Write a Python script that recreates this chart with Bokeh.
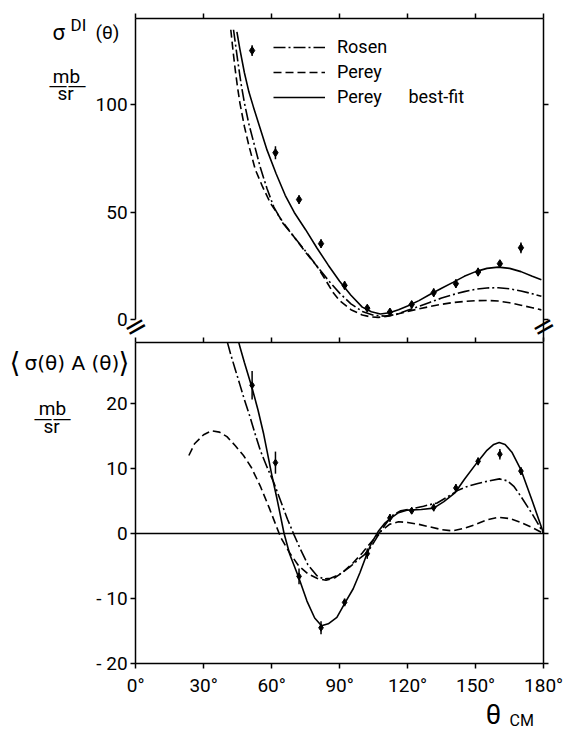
from bokeh.plotting import figure
from bokeh.models import (LinearAxis, FixedTicker, Label, Legend, LegendItem, Range1d)
from bokeh.embed import file_html
from bokeh.resources import INLINE

FONT = "Roboto"

# ---------------- data ----------------
# measured angles (deg, CM)
exp_angle = [51.4, 61.7, 72.1, 81.8, 92.2, 102.2, 112.2, 121.8, 131.5, 141.3, 151.1, 160.7, 170.0]

# upper panel: sigma_DI (mb/sr)
sig_exp = [125.3, 77.8, 56.0, 35.5, 16.1, 5.5, 3.7, 7.2, 12.7, 16.9, 22.3, 26.2, 33.6]
sig_err = [2.5, 3.0, 2.0, 2.0, 2.0, 1.5, 1.5, 1.5, 2.0, 2.0, 2.0, 1.5, 2.5]

sig_best_ang = [44.7, 46, 48, 50, 52, 55, 58, 62, 66, 70, 75, 80, 85, 90, 95, 100, 104, 108, 112, 116,
                120, 125, 130, 135, 140, 145, 150, 155, 160, 165, 170, 175, 179]
sig_best = [134, 126, 115, 106, 99, 89, 79, 68, 58, 50, 42, 33.5, 25.5, 18, 11.5, 6, 3.8, 2.8, 3.4, 4.8,
            6.5, 9, 12, 14.8, 17.5, 20.3, 22.5, 24, 24.6, 24, 22.5, 20.3, 18.7]

sig_rosen_ang = [43.2, 45, 46.5, 48, 50, 52, 55, 58, 61, 65, 70, 75, 80, 85, 90, 95, 100, 105, 110, 115,
                 120, 125, 130, 135, 140, 145, 150, 155, 160, 165, 170, 175, 179]
sig_rosen = [135, 121, 110, 101, 91, 83, 71, 61, 52.5, 45, 38.5, 32, 25, 18.5, 12.5, 7.5, 4, 2.2, 1.8, 2.6,
             4.5, 6.3, 8.3, 10.2, 11.8, 13.2, 14.3, 14.9, 15, 14.5, 13.5, 12.2, 11]

sig_perey_ang = [42, 43, 44, 45, 46, 48, 50, 52.8, 56, 59.4, 65, 70, 75, 80, 83, 85, 87.3, 90, 95, 100,
                 104, 107, 112, 116, 120, 125, 130, 135, 140, 145, 150, 155, 160, 165, 170, 175, 179]
sig_perey = [135, 125, 116, 108, 101, 90, 81, 70, 62, 54.5, 45.5, 38.5, 31.5, 25, 20, 16.5, 12.5, 9, 4.8, 2.3,
             1.4, 1.2, 1.9, 2.9, 4, 5.2, 6.3, 7.3, 8.1, 8.6, 9, 9.1, 8.8, 8, 6.9, 5.7, 4.7]

# lower panel: <sigma A> (mb/sr)
asy_exp = [22.8, 10.9, -6.6, -14.5, -10.6, -3.1, 2.4, 3.5, 4.0, 7.0, 11.1, 12.2, 9.6]
asy_err = [2.2, 1.7, 1.2, 1.0, 0.6, 0.8, 0.6, 0.5, 0.6, 0.6, 0.6, 0.8, 0.6]

asy_best_ang = [45.5, 46.2, 48, 51.3, 54, 56.5, 58.5, 60.2, 62.4, 65.5, 68, 72, 75.6, 79, 82, 85, 88.8,
                92.5, 96, 99, 102, 104, 107, 110, 112.3, 116, 120, 126, 131.5, 136, 141, 145, 150.6,
                155, 158, 160.4, 163, 166, 170, 175, 180]
asy_best = [29.4, 28.5, 26.3, 22.5, 19.0, 15.3, 11.8, 8.8, 5.3, 0, -3.2, -6.8, -10.4, -13, -14.2, -13.9,
            -12.9, -10.6, -8.5, -6.0, -3.2, -1.5, 0.3, 1.6, 2.3, 3.2, 3.6, 3.7, 3.9, 4.9, 6.3, 8.3, 10.9,
            12.8, 13.7, 14.0, 13.7, 12.5, 9.8, 5.0, 0]

asy_rosen_ang = [40.5, 42, 44, 46, 48, 50.6, 53, 55, 58, 61, 64, 67, 70, 72.7, 76, 80, 83, 86, 90, 95,
                 99, 102, 104, 107, 110, 113, 117, 122, 127, 133, 137, 142, 146, 151, 156, 160.5, 164,
                 167, 170, 175, 180]
asy_rosen = [29.4, 27.5, 25.2, 22.9, 20.6, 17.8, 15, 12.8, 10.2, 7.8, 5.0, 2.2, -0.3, -2.4, -4.8, -6.5,
             -7.0, -6.9, -6.3, -5.0, -3.8, -3.0, -2.0, -0.3, 1.3, 2.7, 3.5, 3.8, 4.2, 4.7, 5.5, 6.6, 7.2,
             7.7, 8.1, 8.4, 8.1, 7.2, 5.7, 3.0, 0]

asy_perey_ang = [23.5, 26, 30, 33.4, 37, 40.3, 44, 47.6, 51, 55, 59, 63, 64, 68, 72, 76, 80, 84, 88, 92,
                 96, 100, 104, 108, 112, 116, 120, 125, 130, 135, 140, 145, 150, 155, 160, 165, 170,
                 175, 180]
asy_perey = [12.0, 13.8, 15.2, 15.8, 15.6, 14.9, 13.5, 12, 10.2, 7.3, 3.9, 0.3, -0.6, -3, -5, -6.2, -6.9,
             -7.2, -6.8, -5.8, -4.5, -3.0, -1.3, 0.3, 1.4, 1.8, 1.7, 1.4, 1.0, 0.6, 0.4, 0.8, 1.4, 2.1,
             2.5, 2.3, 1.7, 0.9, 0]

x_ticks = [0, 30, 60, 90, 120, 150, 180]
x_tick_labels = {t: f"{t}°" for t in x_ticks}
top_y_ticks = [0, 50, 100]
bot_y_ticks = [-20, -10, 0, 10, 20]
bot_y_labels = {-20: "- 20", -10: "- 10", 0: "0", 10: "10", 20: "20"}

NB = "\u00a0"
legend_names = ["Rosen", "Perey", "Perey" + NB * 6 + "best-fit"]

DASH_ROSEN = "12 3 2 3"
DASH_PEREY = "8 4"
LW = 1.6

# panel extents (data units)
X_LO, X_HI = 0, 180
TOP_LO, TOP_HI = 0, 140          # upper panel, drawn from its 0 level up
BOT_LO, BOT_HI = -20, 29.4       # lower panel


def make_axis(ticks, loc, bounds, labels=False, overrides=None, range_name=None, width=1.5,
              standoff=3):
    kw = {}
    if range_name:
        kw["y_range_name"] = range_name
    ax = LinearAxis(fixed_location=loc, bounds=bounds, ticker=FixedTicker(ticks=ticks), **kw)
    ax.major_tick_out = 5
    ax.major_tick_in = 0
    ax.minor_tick_out = 0
    ax.minor_tick_in = 0
    ax.axis_line_width = width
    ax.axis_line_color = "black"
    ax.major_tick_line_width = 1.5
    ax.major_tick_line_color = "black"
    if labels:
        ax.major_label_text_font = FONT
        ax.major_label_text_font_size = "19px"
        ax.major_label_text_color = "black"
        ax.major_label_standoff = standoff
        if overrides:
            ax.major_label_overrides = overrides
    else:
        ax.major_label_text_font_size = "1px"
        ax.major_label_standoff = 0
        ax.major_label_overrides = {t: "" for t in ticks}
    return ax


def add_label(p, x, y, text, size, align="left", font=FONT, angle=0.0):
    # x, y in canvas pixels (origin at the top-left corner)
    p.add_layout(Label(x=x, y=y, x_units="canvas", y_units="canvas", text=text,
                       text_font=font, text_font_size=size,
                       text_align=align, text_baseline="middle", angle=angle,
                       text_color="black"))


# The frame covers the whole canvas; both panels share the angle axis.
p = figure(width=571, height=730, x_range=Range1d(-59.6, 192.3), y_range=Range1d(-30.31, 82.0),
           x_axis_location=None, y_axis_location=None,
           output_backend="svg", toolbar_location=None,
           min_border_left=0, min_border_right=0, min_border_top=0, min_border_bottom=0)
p.extra_y_ranges = {"top": Range1d(-190.93, 148.6)}
p.outline_line_color = None
p.xgrid.visible = False
p.ygrid.visible = False

# ----- upper panel axes -----
p.add_layout(make_axis(x_ticks, TOP_HI, (X_LO, X_HI), range_name="top"), "above")
p.add_layout(make_axis(top_y_ticks, X_LO, (TOP_LO, TOP_HI), labels=True, range_name="top"), "left")
p.add_layout(make_axis(top_y_ticks, X_HI, (-10.1, TOP_HI), range_name="top"), "right")

# ----- lower panel axes -----
p.add_layout(make_axis(x_ticks, BOT_HI, (X_LO, X_HI)), "above")
p.add_layout(make_axis(x_ticks, BOT_LO, (X_LO, X_HI), labels=True, overrides=x_tick_labels,
                       standoff=6), "below")
p.add_layout(make_axis(bot_y_ticks, X_LO, (BOT_LO, BOT_HI), labels=True, overrides=bot_y_labels),
             "left")
p.add_layout(make_axis(bot_y_ticks, X_HI, (BOT_LO, BOT_HI)), "right")
# zero line of the lower panel
p.add_layout(make_axis([], 0, (X_LO, X_HI), width=1.3), "below")

# ----- upper panel data -----
l_rosen = p.line(sig_rosen_ang, sig_rosen, line_color="black", line_width=LW, line_dash=DASH_ROSEN,
                 y_range_name="top")
l_perey = p.line(sig_perey_ang, sig_perey, line_color="black", line_width=LW, line_dash=DASH_PEREY,
                 y_range_name="top")
l_best = p.line(sig_best_ang, sig_best, line_color="black", line_width=LW, y_range_name="top")
p.segment(x0=exp_angle, y0=[v - e for v, e in zip(sig_exp, sig_err)],
          x1=exp_angle, y1=[v + e for v, e in zip(sig_exp, sig_err)],
          line_color="black", line_width=1.5, y_range_name="top")
p.scatter(exp_angle, sig_exp, marker="diamond", size=8, color="black", y_range_name="top")

# ----- lower panel data -----
p.line(asy_rosen_ang, asy_rosen, line_color="black", line_width=LW, line_dash=DASH_ROSEN)
p.line(asy_perey_ang, asy_perey, line_color="black", line_width=LW, line_dash=DASH_PEREY)
p.line(asy_best_ang, asy_best, line_color="black", line_width=LW)
p.segment(x0=exp_angle, y0=[v - e for v, e in zip(asy_exp, asy_err)],
          x1=exp_angle, y1=[v + e for v, e in zip(asy_exp, asy_err)],
          line_color="black", line_width=1.5)
p.scatter(exp_angle, asy_exp, marker="diamond", size=7, color="black")

legend = Legend(items=[LegendItem(label=legend_names[0], renderers=[l_rosen]),
                       LegendItem(label=legend_names[1], renderers=[l_perey]),
                       LegendItem(label=legend_names[2], renderers=[l_best])],
                location=(273, 623), orientation="vertical",
                border_line_color=None, background_fill_alpha=0,
                padding=0, margin=0, spacing=4, glyph_width=52, glyph_height=20,
                label_standoff=12, label_height=20,
                label_text_font=FONT, label_text_font_size="18px", label_text_color="black")
p.add_layout(legend)

# ----- texts -----
add_label(p, 52, 32, "σ", "22px")
add_label(p, 70, 24, "DI", "17px")
add_label(p, 95, 32, "(θ)", "19px")
add_label(p, 66, 76, "mb", "19px", align="center")
add_label(p, 67, 84, "——", "19px", align="center", font="DejaVu Sans")
add_label(p, 65, 93, "sr", "19px", align="center")
# axis breaks
add_label(p, 135, 326, "=", "28px", align="center", font="DejaVu Sans", angle=0.52)
add_label(p, 543, 326, "=", "28px", align="center", font="DejaVu Sans", angle=0.52)

add_label(p, 9, 362, "⟨", "28px", font="DejaVu Sans")
add_label(p, 24, 362, "σ(θ) A (θ)", "20px", font="DejaVu Sans")
add_label(p, 118, 362, "⟩", "28px", font="DejaVu Sans")
add_label(p, 52, 408, "mb", "19px", align="center")
add_label(p, 52, 417, "——", "19px", align="center", font="DejaVu Sans")
add_label(p, 51, 426, "sr", "19px", align="center")
add_label(p, 493, 714, "θ", "27px", align="center")
add_label(p, 509, 720, "CM", "16px", align="left")

open("out.html", "w").write(file_html(p, INLINE))
